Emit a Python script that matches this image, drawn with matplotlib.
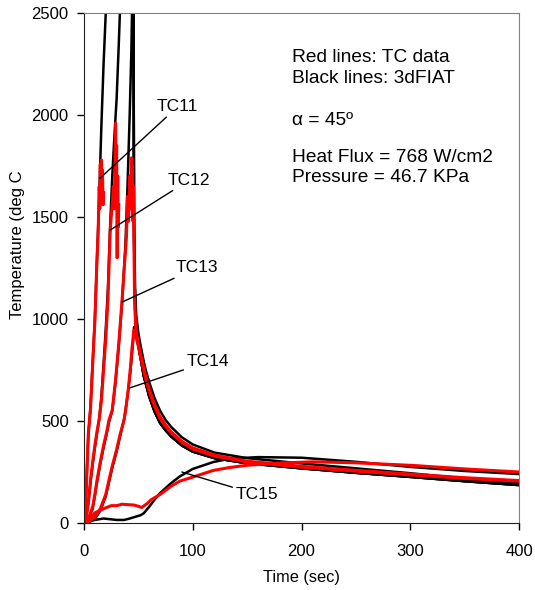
import numpy as np
import matplotlib
matplotlib.use("Agg")
import matplotlib.pyplot as plt

plt.rcParams['font.family'] = ['Liberation Sans', 'DejaVu Sans']

# --- data (time in sec, temperature in deg C) ---

# shared cool-down part after the heating stops (~45 s)
t_decay = [45.5, 46, 47, 48, 50, 52, 55, 57, 60, 65, 70, 75, 80, 90, 100, 120, 150, 200, 250, 300, 350, 400]
T_decay_out = [2650, 1500, 1150, 1020, 930, 870, 790, 745, 690, 610, 550, 505, 472, 420, 385, 345, 318, 292,
               268, 244, 218, 196]
T_decay_in = [2650, 1400, 1050, 950, 870, 810, 720, 680, 620, 545, 490, 455, 425, 380, 350, 318, 293, 268,
              246, 226, 205, 186]

t_rdecay = [46.5, 47.5, 50, 52, 55, 57, 60, 65, 70, 75, 80, 90, 100, 120, 150, 200, 250, 300, 350, 400]
T_rdecay13 = [1100, 960, 880, 830, 760, 715, 655, 580, 520, 480, 448, 400, 368, 333, 303, 278, 258, 240, 222, 208]
T_rdecay14 = [938, 918, 865, 815, 745, 700, 645, 570, 512, 474, 442, 395, 363, 328, 299, 274, 254, 236, 219, 205]

# black lines: 3dFIAT
t_b11 = [0, 1, 2, 3, 4, 6, 8, 10, 12, 14, 16, 18, 20, 21, 45]
T_b11 = [0, 50, 160, 300, 430, 570, 790, 1000, 1300, 1600, 1950, 2250, 2500, 2650, 2650]
t_b12 = [0, 2, 4, 6, 8, 10, 12, 14, 16, 18, 20, 22, 24, 26, 28, 30, 32, 33, 34, 45]
T_b12 = [0, 30, 100, 200, 290, 370, 440, 510, 620, 780, 950, 1150, 1450, 1700, 1900, 2080, 2350, 2500, 2650, 2650]
t_b13 = [0, 4, 8, 12, 15, 18, 21, 23, 26, 29, 32, 35, 38, 40, 42, 43.5, 44.5, 45]
T_b13 = [0, 20, 70, 200, 290, 370, 440, 495, 550, 690, 870, 1080, 1350, 1650, 2000, 2300, 2600, 2650]
t_b14 = [0, 5, 10, 15, 20, 23, 26, 30, 33, 37, 40, 43, 45, 46]
T_b14 = [0, 5, 20, 60, 130, 200, 270, 350, 420, 510, 620, 760, 880, 960]
t_b15 = [0, 5, 10, 18, 30, 37, 42, 47, 52, 55, 60, 65, 70, 80, 88, 100, 119, 134, 160, 200, 250, 300, 350, 400]
T_b15 = [0, 10, 15, 22, 15, 15, 22, 30, 38, 48, 80, 115, 147, 195, 228, 265, 299, 315, 323, 320, 300, 275, 255,
         240]

# red lines: TC data
t_r11 = [0, 1, 2, 3, 4, 6, 8, 10, 12, 13, 14, 14.5, 15, 15.5, 16, 16.5, 17, 17.5, 18]
T_r11 = [0, 40, 150, 300, 440, 560, 780, 990, 1300, 1420, 1650, 1540, 1760, 1600, 1780, 1640, 1730, 1560, 1620]
t_r12 = [0, 2, 4, 6, 8, 10, 12, 14, 16, 18, 20, 22, 24, 25, 26, 27, 28, 28.5, 29, 29.5, 30, 30.5, 31, 31.5, 32]
T_r12 = [0, 20, 100, 211, 300, 380, 450, 510, 600, 750, 900, 1093, 1420, 1500, 1560, 1650, 1540, 1760, 1960,
         1680, 1850, 1300, 1700, 1450, 1560]
t_r13 = [0, 4, 8, 10, 12, 15, 18, 21, 23, 26, 29, 32, 35, 37, 39, 40, 41, 42, 43, 43.5, 44, 44.5, 45, 45.5, 46]
T_r13 = [0, 20, 80, 140, 211, 300, 380, 450, 505, 554, 700, 880, 1093, 1250, 1400, 1600, 1480, 1700, 1540,
         1790, 1620, 1750, 1480, 1650, 1350]
t_r14 = [0, 5, 10, 15, 20, 23, 26, 30, 33, 36.8, 38.3, 41, 43, 44, 45, 45.5, 46]
T_r14 = [0, 10, 30, 70, 140, 211, 280, 360, 430, 505, 554, 667, 780, 850, 900, 930, 946]
t_r15 = [0, 5, 10, 18, 25, 30, 35, 40, 46, 50, 53, 58, 62, 70, 80, 88, 100, 119, 134, 150, 180, 211, 250, 303,
         350, 400]
T_r15 = [0, 20, 50, 70, 85, 85, 92, 90, 88, 82, 76, 95, 115, 140, 180, 205, 225, 258, 272, 283, 294, 300, 295,
         282, 265, 250]

labels = ['TC11', 'TC12', 'TC13', 'TC14', 'TC15']
label_text_xy = [(67, 2040), (77, 1680), (84, 1250), (94, 790), (139, 140)]
label_point_xy = [(14.7, 1690), (24, 1436), (35, 1083), (42, 662), (90, 250)]

notes = ['Red lines: TC data', 'Black lines: 3dFIAT', 'α = 45º', 'Heat Flux = 768 W/cm2',
         'Pressure = 46.7 KPa']
note_baselines = [62, 83, 125, 162, 182]


fig = plt.figure(figsize=(5.35, 5.9), dpi=100)
ax = fig.add_axes([84 / 535, 1 - 523 / 590, 435 / 535, 510 / 590])

blk = dict(color='black', lw=1.8, solid_joinstyle='round')
red = dict(color='#ff0000', lw=2.2, solid_joinstyle='round')

# black first, red drawn over it
ax.plot(t_b11 + t_decay, T_b11 + T_decay_out, **blk)
ax.plot(t_b12 + t_decay, T_b12 + T_decay_in, **blk)
ax.plot(t_b13 + t_decay, T_b13 + T_decay_in, **blk)
ax.plot(t_b14 + t_decay[3:], T_b14 + T_decay_in[3:], **blk)
ax.plot(t_b15, T_b15, **blk)

ax.plot(t_r11, T_r11, **red)
ax.plot(t_r12, T_r12, **red)
ax.plot(t_r13 + t_rdecay, T_r13 + T_rdecay13, **red)
ax.plot(t_r14 + t_rdecay[1:], T_r14 + T_rdecay14[1:], **red)
ax.plot(t_r15, T_r15, **red)

for lab, txy, pxy in zip(labels, label_text_xy, label_point_xy):
    ax.annotate(lab, xy=pxy, xytext=txy, fontsize=12.5, va='center', ha='left',
                arrowprops=dict(arrowstyle='-', color='black', lw=1, shrinkA=0, shrinkB=0))

for txt, b in zip(notes, note_baselines):
    ax.text((292 - 84) / 435, (523 - b) / 510, txt, transform=ax.transAxes, fontsize=13.8,
            va='baseline', ha='left')

ax.set_xlim(0, 400)
ax.set_ylim(0, 2500)
ax.set_xticks(np.arange(0, 401, 100))
ax.set_yticks(np.arange(0, 2501, 500))
ax.tick_params(direction='out', length=5, width=1, labelsize=12)
ax.tick_params(axis='x', pad=10)
ax.tick_params(axis='y', pad=6)

for s in ['top', 'right']:
    ax.spines[s].set_color('#808080')
for s in ['left', 'bottom']:
    ax.spines[s].set_color('#202020')

ax.set_xlabel('Time (sec)', fontsize=11.8)
ax.xaxis.set_label_coords(0.499, -0.092)
ax.set_ylabel('Temperature (deg C', fontsize=12)
ax.yaxis.set_label_coords(-0.135, 0.545)

fig.savefig('out.png', dpi=100)
